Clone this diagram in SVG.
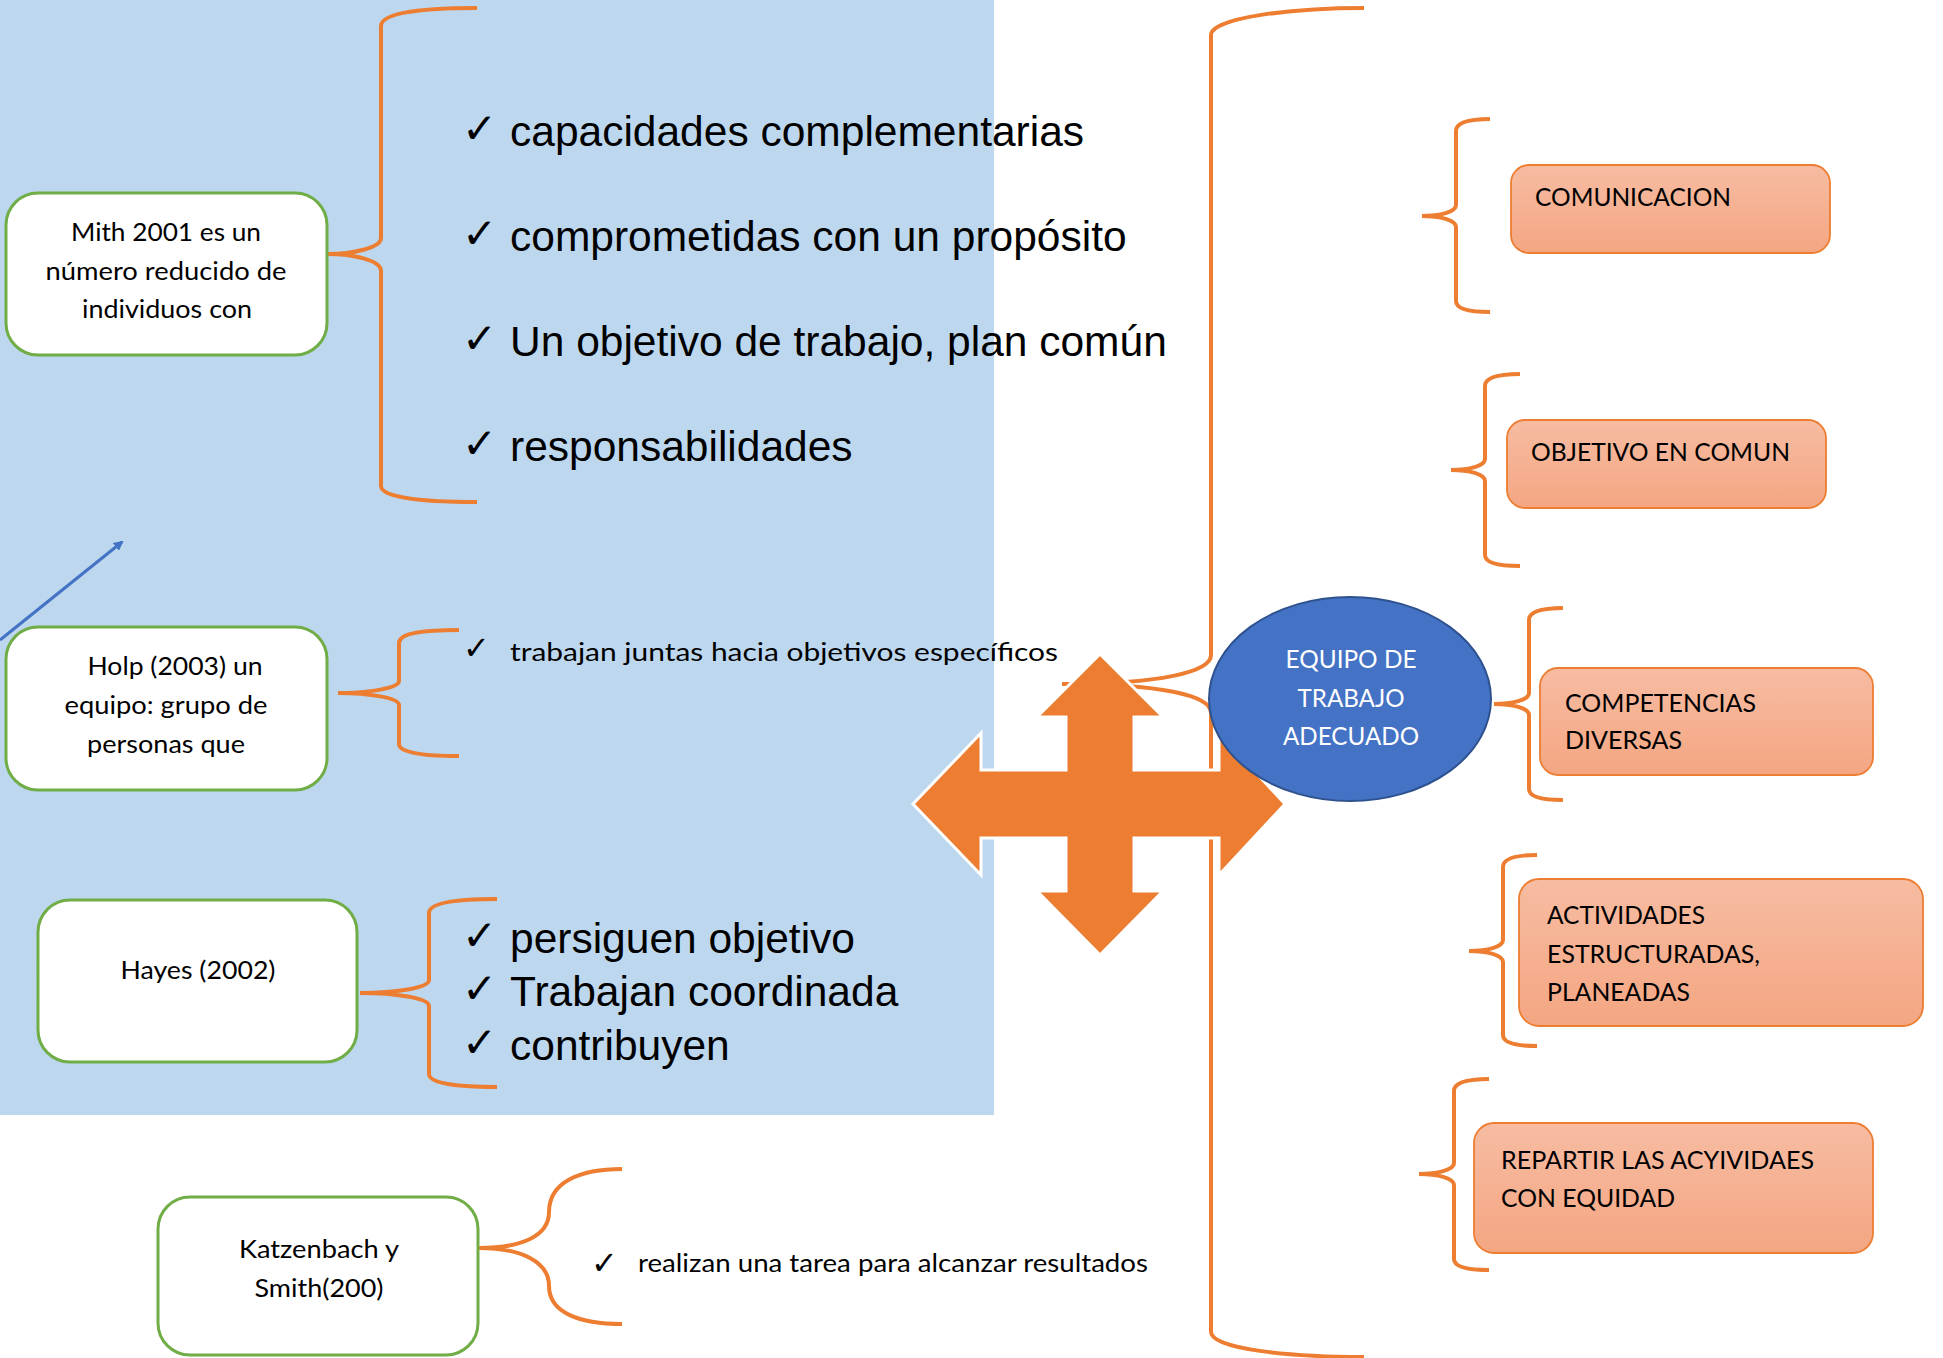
<svg xmlns="http://www.w3.org/2000/svg" width="1943" height="1358" viewBox="0 0 1943 1358">
<defs>
<linearGradient id="sal" x1="0" y1="0" x2="0" y2="1">
<stop offset="0" stop-color="#F7BCA2"/>
<stop offset="1" stop-color="#F4A682"/>
</linearGradient>
<marker id="ah" markerWidth="10" markerHeight="10" refX="8" refY="5" orient="auto" markerUnits="userSpaceOnUse" viewBox="0 0 10 10">
<path d="M0,0 L10,5 L0,10 Z" fill="#4472C4"/>
</marker>
<style>
.gb{fill:#fff;stroke:#70AD47;stroke-width:3}
.ob{fill:url(#sal);stroke:#ED7D31;stroke-width:1.8}
.br{fill:none;stroke:#ED7D31;stroke-width:4}
.cal{font-family:Lato,"Open Sans",sans-serif;font-size:25px;fill:#000}
.calw{font-family:Lato,"Open Sans",sans-serif;font-size:25px;fill:#fff}
.ar{font-family:"Liberation Sans",Arial,sans-serif;font-size:42.5px;fill:#000}
.ck{font-family:"DejaVu Sans",sans-serif;font-size:42px;fill:#000}
.cks{font-family:"DejaVu Sans",sans-serif;font-size:32px;fill:#000}
</style>
</defs>
<rect x="0" y="0" width="1943" height="1358" fill="#fff"/>
<rect id="panel" x="0" y="0" width="994" height="1115" fill="#BDD7EE"/>

<g id="connectors">
<path class="br" d="M477,8 C420,8 381,13 381,26 L381,238 C381,248 352,254 328,254 C352,254 381,260 381,271 L381,486 C381,497 420,502 477,502"/>
<path class="br" d="M459,630 C425,630 399,633 399,643 L399,681 C399,688 370,693 338,693 C370,693 399,698 399,705 L399,744 C399,753 425,756 459,756"/>
<path class="br" d="M497,899 C460,899 429,902 429,913 L429,980 C429,988 395,993 360,993 C395,993 429,998 429,1006 L429,1074 C429,1084 460,1087 497,1087"/>
<path class="br" d="M622,1169 C580,1169 549,1182 549,1212 C549,1236 522,1248 478,1248 C522,1248 549,1262 549,1286 C549,1313 580,1324 622,1324"/>
<path class="br" d="M1364,8 C1290,8 1211,18 1211,35 L1211,655 C1211,672 1160,684 1062,684 C1160,684 1211,695 1211,713 L1211,1332 C1211,1349 1290,1357 1364,1357"/>
<path class="br" d="M1490,119 C1470,119 1456,122 1456,131 L1456,205 C1456,212 1440,216 1422,216 C1440,216 1456,220 1456,227 L1456,301 C1456,309 1470,312 1490,312"/>
<path class="br" d="M1520,374 C1500,374 1485,377 1485,386 L1485,459 C1485,466 1469,470 1451,470 C1469,470 1485,474 1485,481 L1485,555 C1485,563 1500,566 1520,566"/>
<path class="br" d="M1563,608 C1543,608 1529,611 1529,620 L1529,693 C1529,700 1512,704 1494,704 C1512,704 1529,708 1529,715 L1529,789 C1529,797 1543,800 1563,800"/>
<path class="br" d="M1537,855 C1517,855 1503,858 1503,867 L1503,940 C1503,947 1487,951 1469,951 C1487,951 1503,955 1503,962 L1503,1035 C1503,1043 1517,1046 1537,1046"/>
<path class="br" d="M1489,1079 C1469,1079 1454,1082 1454,1091 L1454,1163 C1454,1170 1437,1174 1419,1174 C1437,1174 1454,1178 1454,1185 L1454,1259 C1454,1267 1469,1270 1489,1270"/>
<line x1="0" y1="640" x2="122" y2="542" stroke="#4472C4" stroke-width="3" marker-end="url(#ah)"/>
</g>

<g id="cross">
<polygon points="1100,654 1163,717 1134,717 1134,770 1219,770 1219,733 1285,804 1219,875 1219,838 1134,838 1134,891 1163,891 1100,955 1037,891 1066,891 1066,838 981,838 981,875 913,804 981,733 981,770 1066,770 1066,717 1037,717" fill="#ED7D31" stroke="#fff" stroke-width="3" stroke-linejoin="miter"/>
</g>

<g id="mith">
<rect class="gb" x="6" y="193" width="321" height="162" rx="32"/>
<text class="cal" x="166" y="241" text-anchor="middle" textLength="190" lengthAdjust="spacingAndGlyphs">Mith 2001 es un</text>
<text class="cal" x="166" y="280" text-anchor="middle" textLength="241" lengthAdjust="spacingAndGlyphs">número reducido de</text>
<text class="cal" x="167" y="318" text-anchor="middle" textLength="170" lengthAdjust="spacingAndGlyphs">individuos con</text>
</g>
<g id="mith-items">
<text class="ck" x="462" y="143">✓</text>
<text class="ar" x="510" y="146">capacidades complementarias</text>
<text class="ck" x="462" y="248">✓</text>
<text class="ar" x="510" y="251">comprometidas con un propósito</text>
<text class="ck" x="462" y="353">✓</text>
<text class="ar" x="510" y="356">Un objetivo de trabajo, plan común</text>
<text class="ck" x="462" y="458">✓</text>
<text class="ar" x="510" y="461">responsabilidades</text>
</g>

<g id="holp">
<rect class="gb" x="6" y="627" width="321" height="163" rx="32"/>
<text class="cal" x="175" y="675" text-anchor="middle" textLength="175" lengthAdjust="spacingAndGlyphs">Holp (2003) un</text>
<text class="cal" x="166" y="714" text-anchor="middle" textLength="203" lengthAdjust="spacingAndGlyphs">equipo: grupo de</text>
<text class="cal" x="166" y="753" text-anchor="middle" textLength="158" lengthAdjust="spacingAndGlyphs">personas que</text>
</g>
<g id="holp-item">
<text class="cks" x="463" y="659">✓</text>
<text class="cal" x="510" y="661" textLength="548" lengthAdjust="spacingAndGlyphs">trabajan juntas hacia objetivos específicos</text>
</g>

<g id="hayes">
<rect class="gb" x="38" y="900" width="319" height="162" rx="32"/>
<text class="cal" x="198" y="979" text-anchor="middle" textLength="155" lengthAdjust="spacingAndGlyphs">Hayes (2002)</text>
</g>
<g id="hayes-items">
<text class="ck" x="462" y="950">✓</text>
<text class="ar" x="510" y="953">persiguen objetivo</text>
<text class="ck" x="462" y="1003">✓</text>
<text class="ar" x="510" y="1006">Trabajan coordinada</text>
<text class="ck" x="462" y="1057">✓</text>
<text class="ar" x="510" y="1060">contribuyen</text>
</g>

<g id="katz">
<rect class="gb" x="158" y="1197" width="320" height="158" rx="32"/>
<text class="cal" x="319" y="1258" text-anchor="middle" textLength="160" lengthAdjust="spacingAndGlyphs">Katzenbach y</text>
<text class="cal" x="319" y="1297" text-anchor="middle" textLength="129" lengthAdjust="spacingAndGlyphs">Smith(200)</text>
</g>
<g id="katz-item">
<text class="cks" x="591" y="1274">✓</text>
<text class="cal" x="638" y="1272" textLength="510" lengthAdjust="spacingAndGlyphs">realizan una tarea para alcanzar resultados</text>
</g>

<g id="equipo">
<ellipse cx="1350" cy="699" rx="141" ry="102" fill="#4472C4" stroke="#2F528F" stroke-width="2"/>
<text class="calw" x="1351" y="668" text-anchor="middle" textLength="131" lengthAdjust="spacingAndGlyphs">EQUIPO DE</text>
<text class="calw" x="1351" y="707" text-anchor="middle" textLength="107" lengthAdjust="spacingAndGlyphs">TRABAJO</text>
<text class="calw" x="1351" y="745" text-anchor="middle" textLength="136" lengthAdjust="spacingAndGlyphs">ADECUADO</text>
</g>

<g id="comunicacion">
<rect class="ob" x="1511" y="165" width="319" height="88" rx="18"/>
<text class="cal" x="1535" y="206" textLength="196" lengthAdjust="spacingAndGlyphs">COMUNICACION</text>
</g>
<g id="objetivo">
<rect class="ob" x="1507" y="420" width="319" height="88" rx="18"/>
<text class="cal" x="1531" y="461" textLength="259" lengthAdjust="spacingAndGlyphs">OBJETIVO EN COMUN</text>
</g>
<g id="competencias">
<rect class="ob" x="1540" y="668" width="333" height="107" rx="18"/>
<text class="cal" x="1565" y="712" textLength="191" lengthAdjust="spacingAndGlyphs">COMPETENCIAS</text>
<text class="cal" x="1565" y="749" textLength="117" lengthAdjust="spacingAndGlyphs">DIVERSAS</text>
</g>
<g id="actividades">
<rect class="ob" x="1519" y="879" width="404" height="147" rx="20"/>
<text class="cal" x="1547" y="924" textLength="158" lengthAdjust="spacingAndGlyphs">ACTIVIDADES</text>
<text class="cal" x="1547" y="963" textLength="213" lengthAdjust="spacingAndGlyphs">ESTRUCTURADAS,</text>
<text class="cal" x="1547" y="1001" textLength="143" lengthAdjust="spacingAndGlyphs">PLANEADAS</text>
</g>
<g id="repartir">
<rect class="ob" x="1474" y="1123" width="399" height="130" rx="20"/>
<text class="cal" x="1501" y="1169" textLength="313" lengthAdjust="spacingAndGlyphs">REPARTIR LAS ACYIVIDAES</text>
<text class="cal" x="1501" y="1207" textLength="174" lengthAdjust="spacingAndGlyphs">CON EQUIDAD</text>
</g>
</svg>
